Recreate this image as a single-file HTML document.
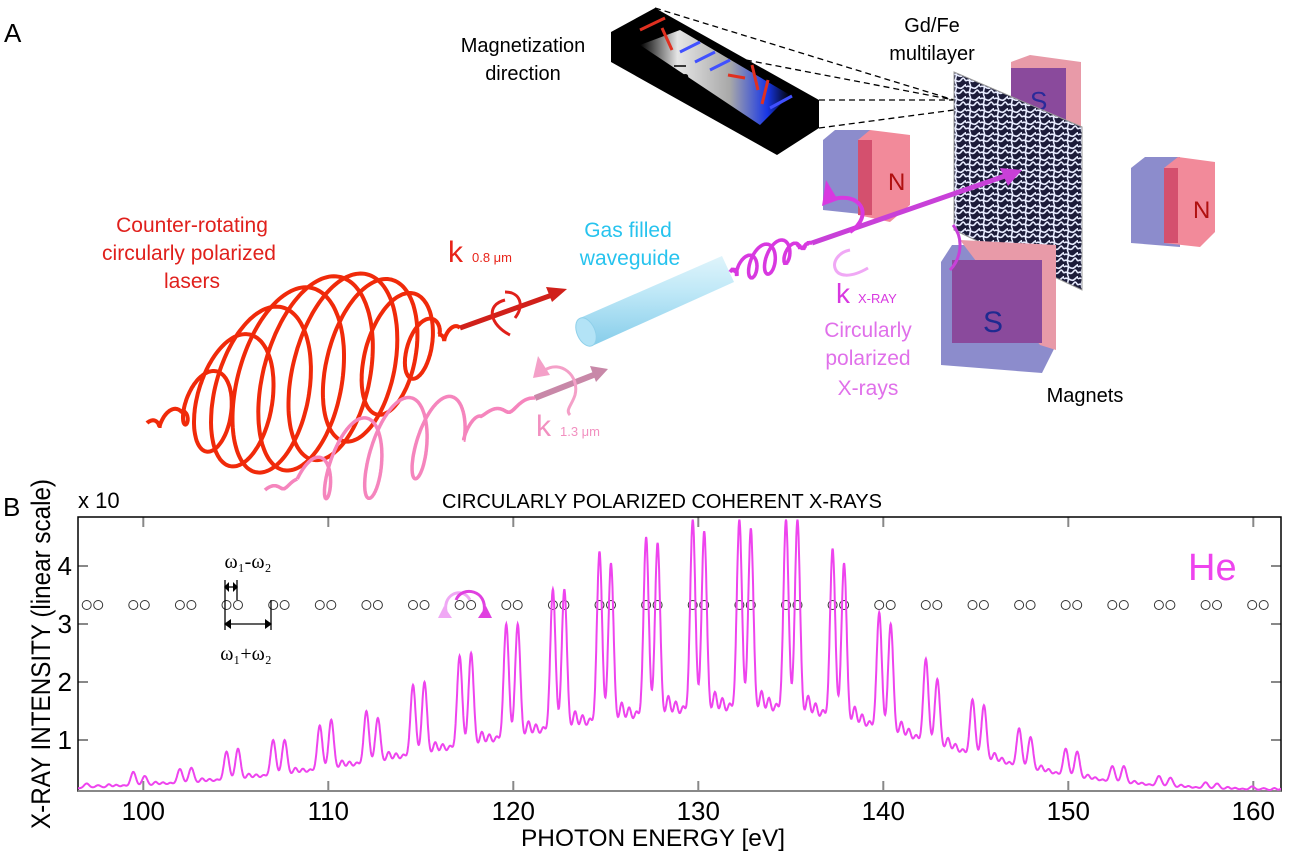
<!DOCTYPE html>
<html><head><meta charset="utf-8"><style>
html,body{margin:0;padding:0;background:#fff;}
svg{display:block;font-family:"Liberation Sans",sans-serif;}
</style></head><body>
<svg id="s" width="1290" height="855" viewBox="0 0 1290 855" xmlns="http://www.w3.org/2000/svg">
<defs>
<linearGradient id="tube" x1="0" y1="0" x2="0" y2="1">
<stop offset="0" stop-color="#dff4fb"/><stop offset="0.4" stop-color="#bfe8f7"/><stop offset="1" stop-color="#86cdea"/></linearGradient>
<linearGradient id="band" x1="0" y1="0" x2="1" y2="0">
<stop offset="0" stop-color="#000"/><stop offset="0.25" stop-color="#fff"/><stop offset="0.6" stop-color="#bbb"/><stop offset="0.85" stop-color="#1a3cff"/><stop offset="1" stop-color="#000"/></linearGradient>
<pattern id="maze" width="14" height="12" patternUnits="userSpaceOnUse">
<rect width="14" height="12" fill="#1c1c3a"/>
<path d="M0 3 C4 0 7 7 11 3 S14 1 14 3 M0 9 C3 6 6 12 9 8 S12 7 14 9 M4 0 C6 4 2 6 4 12" stroke="#e8ecff" stroke-width="1.6" fill="none"/>
</pattern>
<clipPath id="plot"><rect x="78" y="517" width="1203" height="274"/></clipPath>
</defs>
<rect width="1290" height="855" fill="#fff"/>

<!-- Panel A -->
<text x="4" y="42" font-size="26">A</text>
<text x="523" y="52" font-size="20" text-anchor="middle">Magnetization</text>
<text x="523" y="80" font-size="20" text-anchor="middle">direction</text>
<text x="932" y="32" font-size="20" text-anchor="middle">Gd/Fe</text>
<text x="932" y="60" font-size="20" text-anchor="middle">multilayer</text>

<polygon points="611,32 655,8 819,100 819,128 777,155 611,62" fill="#000"/>
<polygon points="640,45 680,30 790,95 760,125" fill="url(#band)" opacity="0.9"/>
<g stroke-width="3">
<line x1="640" y1="30" x2="665" y2="18" stroke="#e03020"/><line x1="662" y1="28" x2="672" y2="50" stroke="#e03020"/>
<line x1="680" y1="52" x2="700" y2="42" stroke="#4050ff"/><line x1="695" y1="62" x2="715" y2="52" stroke="#4050ff"/>
<line x1="710" y1="70" x2="730" y2="60" stroke="#4050ff"/><line x1="728" y1="75" x2="745" y2="78" stroke="#e03020"/>
<line x1="752" y1="65" x2="758" y2="90" stroke="#e03020"/><line x1="768" y1="80" x2="762" y2="104" stroke="#e03020"/>
<line x1="770" y1="108" x2="792" y2="96" stroke="#4050ff"/></g>
<text x="673" y="85" font-size="20">m</text><line x1="674" y1="66" x2="686" y2="66" stroke="#000" stroke-width="1.5"/>
<g stroke="#000" stroke-width="1.3" stroke-dasharray="6,4">
<line x1="655" y1="8" x2="954" y2="100"/><line x1="746" y1="60" x2="954" y2="100"/>
<line x1="819" y1="100" x2="954" y2="100"/><line x1="819" y1="128" x2="954" y2="110"/></g>

<polygon points="1011,62 1030,55 1081,62 1081,127 1011,127" fill="#e89aa8"/>
<rect x="1011" y="68" width="55" height="59" fill="#8a4a9c"/>
<text x="1030" y="110" font-size="26" fill="#2a2a9a">S</text>
<polygon points="823,140 835,130 870,130 870,215 823,210" fill="#8c8ccc"/>
<polygon points="858,140 870,130 910,135 910,205 890,222 858,215" fill="#f28a9a"/>
<rect x="858" y="140" width="14" height="75" fill="#d4506e"/>
<text x="888" y="190" font-size="24" fill="#b01010">N</text>
<polygon points="1131,168 1145,157 1180,157 1180,247 1131,243" fill="#8c8ccc"/>
<polygon points="1164,168 1178,157 1215,162 1215,232 1200,247 1164,243" fill="#f28a9a"/>
<rect x="1164" y="168" width="14" height="75" fill="#d4506e"/>
<text x="1193" y="218" font-size="24" fill="#b01010">N</text>
<polygon points="954,72 1082,127 1082,290 954,230" fill="url(#maze)" stroke="#999" stroke-width="1"/>
<polygon points="941,262 952,245 1056,245 1056,345 1042,373 941,365" fill="#8c8ccc"/>
<polygon points="960,240 1056,245 1056,350 1040,345" fill="#e89aa8"/>
<rect x="952" y="260" width="90" height="83" fill="#8a4a9c"/>
<text x="983" y="332" font-size="30" fill="#1f2a90">S</text>
<text x="1085" y="402" font-size="20" text-anchor="middle">Magnets</text>

<polygon points="580,318 722,256 734,282 592,346" fill="url(#tube)"/>
<ellipse cx="586" cy="332" rx="9" ry="15" transform="rotate(-24 586 332)" fill="#b3e3f6" stroke="#8fd0ea"/>
<text x="628" y="237" font-size="21" fill="#27c3ee" text-anchor="middle">Gas filled</text>
<text x="630" y="265" font-size="21" fill="#27c3ee" text-anchor="middle">waveguide</text>

<text x="192" y="232" font-size="21" fill="#e0201c" text-anchor="middle">Counter-rotating</text>
<text x="189" y="260" font-size="21" fill="#e0201c" text-anchor="middle">circularly polarized</text>
<text x="192" y="288" font-size="21" fill="#e0201c" text-anchor="middle">lasers</text>
<text x="448" y="262" font-size="30" fill="#e8241a">k</text>
<text x="472" y="262" font-size="13" fill="#e8241a">0.8 μm</text>
<text x="536" y="436" font-size="30" fill="#f290c0">k</text>
<text x="560" y="436" font-size="13" fill="#f290c0">1.3 μm</text>

<path id="redHelix" fill="none" stroke="#f02a0a" stroke-width="4"/>
<path id="pinkHelix" fill="none" stroke="#f585bd" stroke-width="3.5"/>
<path id="magHelix" fill="none" stroke="#d838e0" stroke-width="3.5"/>
<line x1="460" y1="328" x2="552" y2="295" stroke="#d0201a" stroke-width="5"/>
<polygon points="567,289 546,287 552,302" fill="#d0201a"/>
<path d="M505 300 C485 305 490 325 510 335" stroke="#e0201a" stroke-width="3" fill="none"/>
<path d="M505 292 C520 292 525 305 515 318" stroke="#e0201a" stroke-width="3" fill="none"/>
<line x1="535" y1="398" x2="596" y2="374" stroke="#c888a8" stroke-width="6"/>
<polygon points="608,369 590,366 596,382" fill="#c888a8"/>
<path d="M545 370 C560 360 580 375 575 395 C572 405 565 410 570 415" stroke="#f4a0c8" stroke-width="3" fill="none"/>
<polygon points="538,356 550,375 533,378" fill="#f4a0c8"/>
<line x1="812" y1="243" x2="1005" y2="176" stroke="#c840d8" stroke-width="5"/>
<polygon points="1022,170 1000,168 1008,186" fill="#c840d8"/>
<path d="M830 200 C860 190 875 215 850 232" stroke="#d838e0" stroke-width="4" fill="none"/>
<polygon points="826,180 838,200 822,206" fill="#d838e0"/>
<path d="M850 250 C825 255 830 290 868 268" stroke="#f0a8f5" stroke-width="3" fill="none"/>
<path d="M953 225 C965 240 960 260 950 270" stroke="#c840d8" stroke-width="3" fill="none"/>
<text x="836" y="303" font-size="28" fill="#d838e0">k</text>
<text x="858" y="303" font-size="13" fill="#d838e0">X-RAY</text>
<text x="868" y="337" font-size="21" fill="#e070ea" text-anchor="middle">Circularly</text>
<text x="868" y="365" font-size="21" fill="#e070ea" text-anchor="middle">polarized</text>
<text x="868" y="395" font-size="21" fill="#e070ea" text-anchor="middle">X-rays</text>

<!-- Panel B -->
<text x="3" y="516" font-size="26">B</text>
<text x="78" y="508" font-size="22">x 10</text>
<text x="662" y="508" font-size="20" text-anchor="middle" textLength="440" lengthAdjust="spacingAndGlyphs">CIRCULARLY POLARIZED COHERENT X-RAYS</text>
<text transform="translate(50 654) rotate(-90)" font-size="27" text-anchor="middle" textLength="350" lengthAdjust="spacingAndGlyphs">X-RAY INTENSITY (linear scale)</text>
<text x="653" y="846" font-size="24" text-anchor="middle" textLength="264" lengthAdjust="spacingAndGlyphs">PHOTON ENERGY [eV]</text>
<g id="ticks"></g>
<rect x="78" y="517" width="1203" height="274" fill="none" stroke="#000" stroke-width="1.5"/>
<line x1="78" y1="791" x2="1281" y2="791" stroke="#888" stroke-width="2"/>
<g id="circles" fill="none" stroke="#333" stroke-width="1"></g>
<path id="spec" clip-path="url(#plot)" fill="none" stroke="#ee44ee" stroke-width="2"/>
<text x="1188" y="580" font-size="38" fill="#ee44ee">He</text>
<text x="248" y="568" font-size="20" font-family="Liberation Serif,serif" text-anchor="middle">ω₁-ω₂</text>
<text x="246" y="660" font-size="20" font-family="Liberation Serif,serif" text-anchor="middle">ω₁+ω₂</text>
<g stroke="#000" stroke-width="1.3">
<line x1="225" y1="580" x2="225" y2="630"/><line x1="237" y1="580" x2="237" y2="600"/><line x1="271" y1="600" x2="271" y2="630"/>
<line x1="225" y1="587" x2="237" y2="587"/><line x1="225" y1="624" x2="271" y2="624"/></g>
<polygon points="224,587 229,582 229,592" /><polygon points="238,587 233,582 233,592"/>
<polygon points="224,624 231,619 231,629"/><polygon points="272,624 265,619 265,629"/>
<path d="M447 615 C440 595 462 585 470 600" stroke="#f0a8f5" stroke-width="3" fill="none"/>
<polygon points="438,618 452,618 444,606" fill="#f0a8f5"/>
<path d="M456 600 C462 585 488 590 484 612" stroke="#e040e0" stroke-width="3" fill="none"/>
<polygon points="478,618 492,618 486,606" fill="#e040e0"/>
</svg>
<script>
function X(E){return 143.3+(E-100)*18.5;}
function Y(v){return 798-58*v;}
var s=document.getElementById('ticks'),h='';
for(var e=100;e<=160;e+=10){var x=X(e);h+='<line x1="'+x+'" y1="517" x2="'+x+'" y2="527" stroke="#888" stroke-width="2"/><line x1="'+x+'" y1="781" x2="'+x+'" y2="791" stroke="#888" stroke-width="2"/><text x="'+x+'" y="820" font-size="26" text-anchor="middle">'+e+'</text>';}
for(var v=1;v<=4;v++){var y=Y(v);h+='<line x1="78" y1="'+y+'" x2="88" y2="'+y+'" stroke="#888" stroke-width="2"/><line x1="1271" y1="'+y+'" x2="1281" y2="'+y+'" stroke="#888" stroke-width="2"/><text x="72" y="'+(y+9)+'" font-size="26" text-anchor="end">'+v+'</text>';}
s.innerHTML=h;
var H={"-13":[0.25,0.22],"-12":[0.45,0.38],"-11":[0.5,0.52],"-10":[0.8,0.85],"-9":[1.0,1.0],"-8":[1.25,1.35],"-7":[1.5,1.38],"-6":[1.95,2.0],"-5":[2.45,2.5],"-4":[3.0,3.0],"-3":[3.6,3.6],"-2":[4.25,4.05],"-1":[4.5,4.4],"0":[4.8,4.6],"1":[4.8,4.65],"2":[4.8,4.8],"3":[4.3,4.05],"4":[3.2,3.0],"5":[2.4,2.05],"6":[1.7,1.6],"7":[1.2,1.05],"8":[0.85,0.8],"9":[0.55,0.55],"10":[0.38,0.35],"11":[0.27,0.25],"12":[0.2,0.17],"13":[0.15,0.13]};
function base(E){var w=E<133?20:13;return 0.12+1.3*Math.exp(-Math.pow((E-133)/w,2));}
var pk=[];
for(var n=-13;n<=13;n++){var p=129.7+2.52*n;var hh=H[String(n)];pk.push([p,hh[0]]);pk.push([p+0.62,hh[1]]);
 pk.push([p+1.2,null,0.3]);pk.push([p+1.6,null,0.22]);pk.push([p+2.0,null,0.15]);}
var d='';
for(var E=96.4;E<=161.6;E+=0.02){var b=base(E),v=b;
 for(var i=0;i<pk.length;i++){var q=pk[i];var dx=E-q[0];if(Math.abs(dx)>0.9)continue;
  if(q[1]!==null){v+=Math.max(q[1]-b,0)*Math.exp(-dx*dx/(2*0.14*0.14));}
  else{v+=q[2]*b*Math.exp(-dx*dx/(2*0.11*0.11));}}
 d+=(d?'L':'M')+X(E).toFixed(1)+' '+Y(v).toFixed(1);}
document.getElementById('spec').setAttribute('d',d);
var c='';
for(var n=-13;n<=12;n++){var p=129.7+2.52*n;c+='<circle cx="'+X(p).toFixed(1)+'" cy="605" r="4.5"/><circle cx="'+X(p+0.62).toFixed(1)+'" cy="605" r="4.5"/>';}
document.getElementById('circles').innerHTML=c;
function helix(id,ax,ay,bx,by,t0,t1,turns,R,ew,tilt,tail){
 var dd='M'+ax+' '+ay,N=1500;
 var ux=bx-ax,uy=by-ay;
 for(var i=0;i<=N;i++){var t=i/N;var px=ax+ux*t,py=ay+uy*t;
  var r=0;if(t>t0&&t<t1){var m=(t-t0)/(t1-t0);r=R*Math.pow(Math.sin(Math.PI*m),0.7);}
  else r=tail*Math.sin(Math.PI*Math.min(1,Math.abs(t<t0?t/t0:(1-t)/(1-t1))));
  var ph=2*Math.PI*turns*t;
  var mx=Math.sin(tilt),my=-Math.cos(tilt);
  var x=px+r*(Math.cos(ph)*mx+ew*Math.sin(ph)*(-my)),y=py+r*(Math.cos(ph)*my+ew*Math.sin(ph)*mx);
  dd+='L'+x.toFixed(1)+' '+y.toFixed(1);}
 document.getElementById(id).setAttribute('d',dd);}
helix('redHelix',147,423,460,328,0.12,0.93,11,97,0.48,0.22,8);
helix('pinkHelix',265,490,535,398,0.12,0.8,6,48,0.35,0.2,6);
helix('magHelix',730,272,812,243,0.05,0.85,5,17,0.5,0.25,3);
</script>
</body></html>
